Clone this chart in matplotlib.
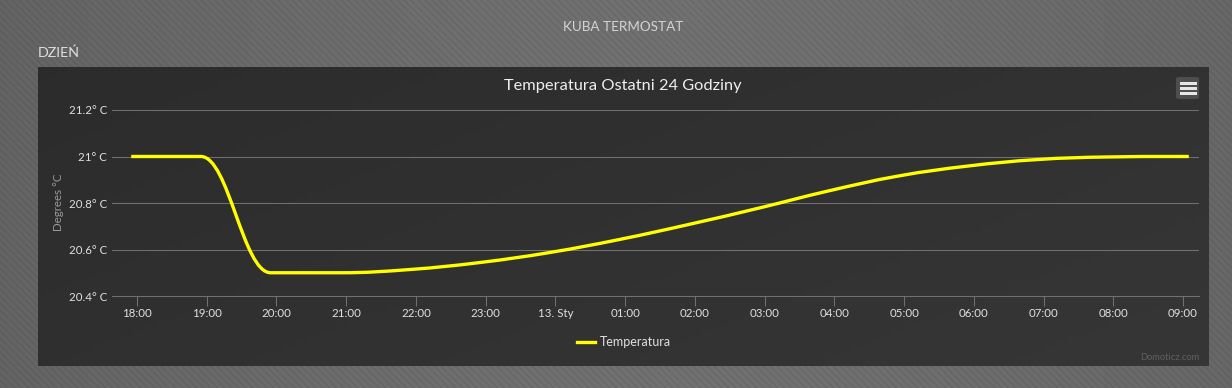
import numpy as np
import matplotlib
matplotlib.use("Agg")
import matplotlib.pyplot as plt
from matplotlib.path import Path
from matplotlib.patches import PathPatch, FancyBboxPatch, Rectangle
from matplotlib.lines import Line2D

# ---------------- data ----------------
# hours after 18:00 (17:55 ... 09:05 next day)
hours = [-0.0833, 0.9167, 1.9167, 2.9167, 3.9167, 4.9167, 5.9167, 6.9167,
         7.9167, 8.9167, 9.9167, 10.9167, 11.9167, 12.9167, 13.9167,
         14.9167, 15.0833]
temps = [21.0, 21.0, 20.5, 20.5, 20.514, 20.544, 20.587, 20.643,
         20.708, 20.778, 20.852, 20.916, 20.959, 20.987, 20.998,
         21.0, 21.0]
xtick_pos = list(range(0, 16))
xtick_labels = ["18:00", "19:00", "20:00", "21:00", "22:00", "23:00", "13. Sty",
                "01:00", "02:00", "03:00", "04:00", "05:00", "06:00", "07:00",
                "08:00", "09:00"]
ytick_vals = [20.4, 20.6, 20.8, 21.0, 21.2]
ytick_labels = ["20.4° C", "20.6° C", "20.8° C", "21° C", "21.2° C"]
series_name = "Temperatura"
chart_title = "Temperatura Ostatni 24 Godziny"
page_title = "KUBA TERMOSTAT"
section_title = "DZIEŃ"

W, H, DPI = 1232, 388, 100
FONT = ["Lato", "DejaVu Sans"]
plt.rcParams["font.family"] = FONT


def fx(px):
    return px / W


def fy(py):
    return 1 - py / H


fig = plt.figure(figsize=(W / DPI, H / DPI), dpi=DPI)

# ---------------- page background (textured grey) ----------------
bg = fig.add_axes([0, 0, 1, 1], zorder=-10)
yy, xx = np.mgrid[0:H, 0:W]
stripe = ((xx - yy) % 7 < 3.5).astype(float)
vign = 1 - 0.12 * np.abs((xx - W * 0.55) / (W * 0.55)) ** 1.5
base = (0.40 + 0.025 * stripe) * vign + 0.02
rgb = np.dstack([base, base, base])
bg.imshow(rgb, aspect="auto", extent=(0, 1, 0, 1), interpolation="nearest")
bg.set_xlim(0, 1)
bg.set_ylim(0, 1)
bg.axis("off")

# ---------------- dark panel ----------------
px0, px1, py0, py1 = 38, 1209, 67, 366
pan = fig.add_axes([fx(px0), fy(py1), fx(px1 - px0), (py1 - py0) / H], zorder=-5)
gy, gx = np.mgrid[0:1:60j, 0:1:200j]
g = 0.172 + 0.04 * (0.6 * gx + 0.4 * gy)
pan.imshow(np.dstack([g, g, g]), aspect="auto", extent=(0, 1, 0, 1))
pan.axis("off")

# ---------------- plot area ----------------
ax = fig.add_axes([fx(112), fy(296), fx(1199 - 112), (296 - 110) / H])
ax.set_facecolor("none")
ax.set_xlim(-0.3585, 15.229)
ax.set_ylim(20.4, 21.2)


def spline_path(xs, ys, smoothing=1.5):
    n = len(xs)
    denom = smoothing + 1
    lc = [None] * n
    rc = [None] * n
    for i in range(1, n - 1):
        x, y = xs[i], ys[i]
        lx, ly = xs[i - 1], ys[i - 1]
        nx, ny = xs[i + 1], ys[i + 1]
        lcx = (smoothing * x + lx) / denom
        lcy = (smoothing * y + ly) / denom
        rcx = (smoothing * x + nx) / denom
        rcy = (smoothing * y + ny) / denom
        corr = 0
        if rcx != lcx:
            corr = (rcy - lcy) * (rcx - x) / (rcx - lcx) + y - rcy
        lcy += corr
        rcy += corr
        if lcy > ly and lcy > y:
            lcy = max(ly, y)
            rcy = 2 * y - lcy
        elif lcy < ly and lcy < y:
            lcy = min(ly, y)
            rcy = 2 * y - lcy
        if rcy > ny and rcy > y:
            rcy = max(ny, y)
            lcy = 2 * y - rcy
        elif rcy < ny and rcy < y:
            rcy = min(ny, y)
            lcy = 2 * y - rcy
        lc[i] = (lcx, lcy)
        rc[i] = (rcx, rcy)
    verts = [(xs[0], ys[0])]
    codes = [Path.MOVETO]
    for i in range(1, n):
        c1 = rc[i - 1] if rc[i - 1] is not None else (xs[i - 1], ys[i - 1])
        c2 = lc[i] if lc[i] is not None else (xs[i], ys[i])
        verts += [c1, c2, (xs[i], ys[i])]
        codes += [Path.CURVE4] * 3
    return Path(verts, codes)


grid_col = "#707070"
ax.set_yticks(ytick_vals)
ax.set_yticklabels(ytick_labels)
ax.set_xticks(xtick_pos)
ax.set_xticklabels(xtick_labels)
ax.grid(axis="y", color=grid_col, lw=0.75)
ax.set_axisbelow(True)
for s in ["top", "right", "left"]:
    ax.spines[s].set_visible(False)
ax.spines["bottom"].set_color(grid_col)
ax.spines["bottom"].set_linewidth(0.75)
ax.tick_params(axis="y", length=0, pad=3.6, labelsize=8.25, labelcolor="#e0e0e0")
ax.tick_params(axis="x", length=7.2, width=0.75, color=grid_col, pad=1.5,
               labelsize=8.25, labelcolor="#e0e0e0")

patch = PathPatch(spline_path(hours, temps), facecolor="none", edgecolor="#ffff00",
                  lw=2.4, capstyle="butt", joinstyle="round", zorder=3,
                  label=series_name)
ax.add_patch(patch)

ax.set_ylabel("Degrees °C", color="#9a9a9a", fontsize=8.25, labelpad=0)
ax.yaxis.set_label_coords((64 - 112) / (1199 - 112), (296 - 202) / (296 - 110))

# legend
h = Line2D([], [], color="#ffff00", lw=2.4)
leg = ax.legend([h], [series_name], loc="center",
                bbox_to_anchor=(fx(624), fy(342)), bbox_transform=fig.transFigure,
                frameon=False, handlelength=1.45, handletextpad=0.45,
                fontsize=9, labelcolor="#e0e0e0")

# texts
fig.text(fx(623), fy(27), page_title, ha="center", va="center",
         fontsize=9.75, color="#d4d4d4")
fig.text(fx(38), fy(53), section_title, ha="left", va="center",
         fontsize=10.25, color="#dedede")
fig.text(fx(623), fy(86), chart_title, ha="center", va="center",
         fontsize=11.8, color="#eeeeee")
fig.text(fx(1199), fy(358), "Domoticz.com", ha="right", va="center",
         fontsize=6.75, color="#606060")

# menu button
btn = FancyBboxPatch((fx(1176), fy(99)), fx(23), (99 - 77) / H,
                     boxstyle="round,pad=0,rounding_size=0.004",
                     transform=fig.transFigure, facecolor="#4e4e4e",
                     edgecolor="none", zorder=5)
fig.patches.append(btn)
for by in (83.5, 88.5, 93.5):
    fig.patches.append(Rectangle((fx(1180), fy(by + 1.2)), fx(16.5), 2.4 / H,
                                 transform=fig.transFigure, facecolor="#e6e6e6",
                                 edgecolor="none", zorder=6))

fig.savefig("out.png", dpi=DPI)
